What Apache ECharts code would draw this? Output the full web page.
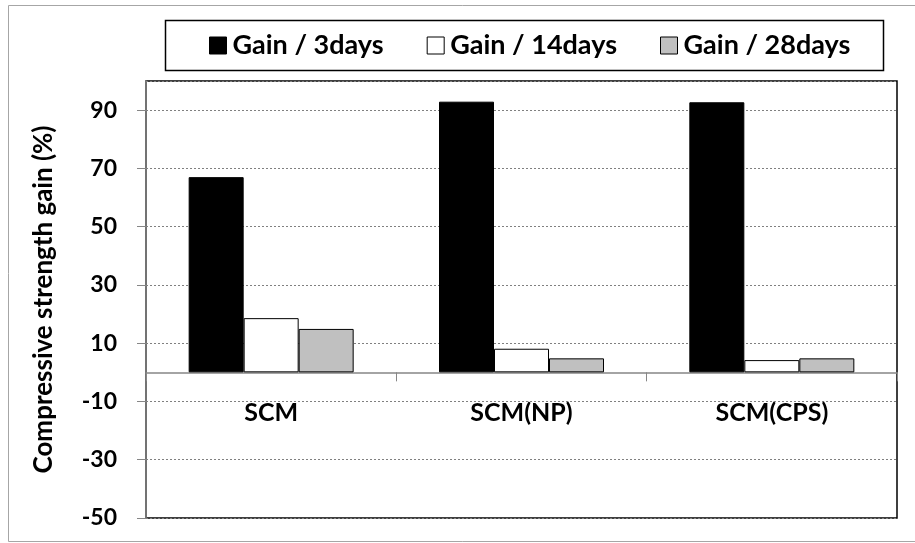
<!DOCTYPE html>
<html>
<head>
<meta charset="utf-8">
<script src="https://cdn.jsdelivr.net/npm/echarts@6/dist/echarts.min.js"></script>
<style>html,body{margin:0;padding:0;background:#fff}#c{width:915px;height:543px}</style>
</head>
<body>
<div id="c"></div>
<script>
const categories = ['SCM', 'SCM(NP)', 'SCM(CPS)'];
const seriesNames = ['Gain / 3days', 'Gain / 14days', 'Gain / 28days'];
const gain3 = [67.0, 92.9, 92.7];
const gain14 = [18.6, 8.1, 4.2];
const gain28 = [14.9, 4.8, 4.8];
const yTicks = [-50, -30, -10, 10, 30, 50, 70, 90];

const FONT = 'Lato';
const fills = ['#000000', '#ffffff', '#c0c0c0'];
const dataSets = [gain3, gain14, gain28];

const chart = echarts.init(document.getElementById('c'), null, {renderer: 'canvas'});
chart.setOption({
  animation: false,
  backgroundColor: '#fff',
  graphic: [{
    type: 'rect', z: -10,
    shape: {x: 8.5, y: 5.5, width: 912, height: 536},
    style: {fill: 'none', stroke: '#a6a6a6', lineWidth: 1}
  }, {
    type: 'rect', z: -5,
    shape: {x: 165.5, y: 20.5, width: 718, height: 50},
    style: {fill: 'none', stroke: '#000', lineWidth: 1.5}
  }],
  legend: {
    left: 205, top: 28,
    padding: [4, 4, 4, 4],
    itemGap: 43,
    itemWidth: 17, itemHeight: 17,
    icon: 'rect',
    textStyle: {fontFamily: FONT, fontWeight: 'bold', fontSize: 27, color: '#000', padding: [0, 0, 0, 1]},
    data: seriesNames.map((n, i) => ({name: n, itemStyle: {color: fills[i], borderColor: '#000', borderWidth: 1}}))
  },
  grid: {
    left: 146, right: 18, top: 81, bottom: 25,
    containLabel: false, outerBoundsMode: 'none',
    show: true, borderColor: '#000', borderWidth: 1.5, backgroundColor: 'transparent'
  },
  xAxis: [{
    type: 'category',
    data: categories,
    axisLine: {onZero: true, lineStyle: {color: '#868686', width: 1.5}},
    axisTick: {show: true, length: 9, lineStyle: {color: '#868686', width: 1}},
    axisLabel: {show: false}
  }, {
    type: 'category',
    data: categories,
    position: 'bottom',
    offset: -146,
    axisLine: {show: false, onZero: false},
    axisTick: {show: false},
    axisLabel: {margin: 28, fontFamily: FONT, fontWeight: 'bold', fontSize: 25, color: '#000'}
  }],
  yAxis: {
    type: 'value',
    min: -50, max: 100, interval: 20,
    name: 'Compressive strength gain (%)',
    nameLocation: 'middle', nameRotate: 90, nameGap: 89,
    nameTextStyle: {fontFamily: FONT, fontWeight: 'bold', fontSize: 26, color: '#000'},
    axisLine: {show: true, lineStyle: {color: '#868686', width: 1.5}},
    axisTick: {show: true, length: 9, lineStyle: {color: '#868686'}},
    axisLabel: {
      margin: 29, fontFamily: FONT, fontWeight: 'bold', fontSize: 23, color: '#000',
      showMaxLabel: false,
      formatter: v => yTicks.indexOf(v) >= 0 ? String(v) : ''
    },
    splitLine: {show: true, lineStyle: {color: '#808080', type: [2, 2], width: 1}}
  },
  series: dataSets.map((d, i) => ({
    name: seriesNames[i],
    type: 'bar',
    xAxisIndex: 0,
    data: d,
    barWidth: 55,
    barGap: '0%',
    itemStyle: {color: fills[i], borderColor: '#000', borderWidth: 1}
  }))
});
</script>
</body>
</html>
